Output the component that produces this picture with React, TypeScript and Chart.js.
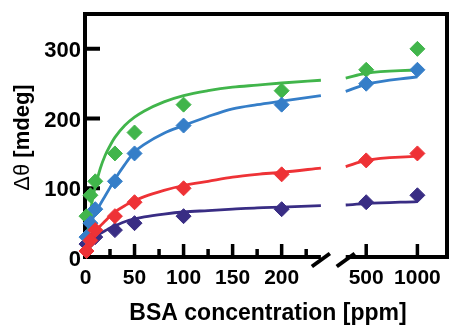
import { useEffect, useRef } from "react";
import { Chart, registerables } from "chart.js";

Chart.register(...registerables);

// Measured binding data (BSA concentration in ppm vs. Δθ in mdeg)
const concentrations = [1, 5, 10, 30, 50, 100, 200, 500, 1000];
const greenValues = [60, 90, 110, 150, 180, 220, 240, 270, 300];
const blueValues = [30, 50, 70, 110, 150, 190, 220, 250, 270];
const redValues = [10, 25, 40, 60, 80, 100, 120, 140, 150];
const purpleValues = [20, 25, 30, 40, 50, 60, 70, 80, 90];

// Fitted curves, low-concentration segment
const fitLowX = [1, 3, 5, 8, 10, 15, 20, 25, 30, 40, 50, 60, 80, 100, 125, 150, 175, 200, 240];
const greenFitLow = [18, 45, 66, 90, 102, 128, 147, 161, 173, 190, 202, 211, 224, 233, 240, 245, 248, 251, 255];
const blueFitLow = [28, 38, 47, 58, 64, 77, 89, 101, 113, 134, 152, 163, 179, 190, 203, 214, 220, 225, 233];
const redFitLow = [18, 23, 28, 34, 38, 46, 53, 60, 66, 75, 82, 88, 97, 104, 110, 116, 120, 123, 129];
const purpleFitLow = [22, 24, 26, 29, 31, 35, 39, 43, 46, 52, 56, 59, 63, 66, 68, 70, 72, 73, 75];

// Fitted curves, high-concentration segment
const fitHighX = [300, 500, 1000];
const greenFitHigh = [258, 265, 270];
const blueFitHigh = [239, 249, 260];
const redFitHigh = [131, 140, 146];
const purpleFitHigh = [76, 78, 81];

// Axis ticks and labels
const xMajorTicks = [50, 100, 150, 200, 500, 1000];
const xMinorTicks = [25, 75, 125, 175, 225];
const xTickLabels = [0, 50, 100, 150, 200, 500, 1000];
const yTicks = [100, 200, 300];
const yTickLabels = [0, 100, 200, 300];
const breakStart = 240;
const breakEnd = 300;

const GREEN = "#41b54b";
const BLUE = "#357ec8";
const RED = "#ee3236";
const PURPLE = "#392d84";

const FONT = '"Liberation Sans", Arial, sans-serif';

// Broken x axis: linear up to the break, then a compressed linear segment around 500–1000
const HIGH_ORIGIN = 286.2;
const HIGH_SCALE = 0.1044;
function axisPos(c: number): number {
  return c <= breakStart ? c : HIGH_ORIGIN + (c - 500) * HIGH_SCALE;
}

function curveData(lowY: number[], highY: number[]) {
  const gapX = (axisPos(breakStart) + axisPos(breakEnd)) / 2;
  return [
    ...fitLowX.map((c, i) => ({ x: axisPos(c), y: lowY[i] })),
    { x: gapX, y: null as unknown as number },
    ...fitHighX.map((c, i) => ({ x: axisPos(c), y: highY[i] })),
  ];
}

function pointData(values: number[]) {
  return concentrations.map((c, i) => ({ x: axisPos(c), y: values[i] }));
}

const axesPlugin = {
  id: "brokenAxes",
  beforeDatasetsDraw(chart: any) {
    const { ctx, chartArea, scales } = chart;
    const xs = scales.x;
    const ys = scales.y;
    const left = 85;
    const right = 447;
    const top = 14;
    const axisY = 257;
    const xb1 = xs.getPixelForValue(axisPos(breakStart));
    const xb2 = xs.getPixelForValue(axisPos(breakEnd));

    ctx.save();
    ctx.strokeStyle = "#000";
    ctx.lineWidth = 4;
    ctx.lineJoin = "miter";

    // left, top and right sides of the frame
    ctx.beginPath();
    ctx.moveTo(left, axisY + 2);
    ctx.lineTo(left, top);
    ctx.lineTo(right, top);
    ctx.lineTo(right, axisY + 2);
    ctx.stroke();

    // bottom axis, split at the break
    ctx.beginPath();
    ctx.moveTo(left - 2, axisY);
    ctx.lineTo(xb1, axisY);
    ctx.moveTo(xb2, axisY);
    ctx.lineTo(right + 2, axisY);
    ctx.stroke();

    // break marks
    ctx.lineCap = "butt";
    for (const bx of [xb1, xb2]) {
      ctx.beginPath();
      ctx.moveTo(bx - 9, axisY + 9.5);
      ctx.lineTo(bx + 9, axisY - 3.5);
      ctx.stroke();
    }

    // x ticks point inward
    ctx.lineWidth = 3.5;
    ctx.beginPath();
    for (const t of xMajorTicks) {
      const px = xs.getPixelForValue(axisPos(t));
      ctx.moveTo(px, axisY);
      ctx.lineTo(px, axisY - 13);
    }
    for (const t of xMinorTicks) {
      const px = xs.getPixelForValue(axisPos(t));
      ctx.moveTo(px, axisY);
      ctx.lineTo(px, axisY - 8);
    }
    ctx.stroke();

    // y ticks point inward
    ctx.lineWidth = 4;
    ctx.beginPath();
    for (const t of yTicks) {
      const py = ys.getPixelForValue(t);
      ctx.moveTo(left, py);
      ctx.lineTo(left + 15, py);
    }
    ctx.stroke();

    ctx.fillStyle = "#000";
    // x tick labels
    ctx.font = `bold 21px ${FONT}`;
    ctx.textAlign = "center";
    ctx.textBaseline = "alphabetic";
    for (const t of xTickLabels) {
      const px = xs.getPixelForValue(axisPos(t));
      ctx.fillText(String(t), px, 283.5);
    }

    // y tick labels
    ctx.font = `bold 22px ${FONT}`;
    ctx.textAlign = "right";
    for (const t of yTickLabels) {
      const py = ys.getPixelForValue(t);
      ctx.fillText(String(t), 81, py + 8);
    }

    // x axis title
    ctx.font = `bold 23px ${FONT}`;
    ctx.textAlign = "center";
    ctx.fillText("BSA concentration [ppm]", 268, 320);

    // y axis title: symbol in regular weight, unit in bold
    const part1 = "Δθ ";
    const part2 = "[mdeg]";
    ctx.translate(28.5, (chartArea.top + chartArea.bottom) / 2 + 1.5);
    ctx.rotate(-Math.PI / 2);
    ctx.textAlign = "left";
    ctx.font = `22px ${FONT}`;
    const w1 = ctx.measureText(part1).width;
    ctx.font = `bold 22px ${FONT}`;
    const w2 = ctx.measureText(part2).width;
    const start = -(w1 + w2) / 2;
    ctx.font = `22px ${FONT}`;
    ctx.fillText(part1, start, 0);
    ctx.font = `bold 22px ${FONT}`;
    ctx.fillText(part2, start + w1, 0);

    ctx.restore();
  },
};

function lineSet(data: any, color: string, order: number) {
  return {
    type: "line" as const,
    data,
    borderColor: color,
    borderWidth: 2.8,
    pointRadius: 0,
    fill: false,
    spanGaps: false,
    cubicInterpolationMode: "monotone" as const,
    clip: false as const,
    order,
  };
}

function markerSet(data: any, color: string, order: number) {
  return {
    type: "scatter" as const,
    data,
    backgroundColor: color,
    borderColor: color,
    borderWidth: 1,
    pointStyle: "rectRot" as const,
    pointRadius: 7.5,
    showLine: false,
    clip: false as const,
    order,
  };
}

export default function App() {
  const canvasRef = useRef<HTMLCanvasElement | null>(null);

  useEffect(() => {
    if (!canvasRef.current) return;
    const chart = new Chart(canvasRef.current, {
      type: "scatter",
      data: {
        datasets: [
          lineSet(curveData(purpleFitLow, purpleFitHigh), PURPLE, 8),
          markerSet(pointData(purpleValues), PURPLE, 7),
          lineSet(curveData(greenFitLow, greenFitHigh), GREEN, 6),
          markerSet(pointData(greenValues), GREEN, 5),
          lineSet(curveData(blueFitLow, blueFitHigh), BLUE, 4),
          markerSet(pointData(blueValues), BLUE, 3),
          lineSet(curveData(redFitLow, redFitHigh), RED, 2),
          markerSet(pointData(redValues), RED, 1),
        ] as any,
      },
      options: {
        animation: false,
        responsive: false,
        maintainAspectRatio: false,
        layout: { padding: { left: 85, top: 14, right: 5, bottom: 67 } },
        plugins: {
          legend: { display: false },
          tooltip: { enabled: false },
        },
        scales: {
          x: { type: "linear", min: -0.5, max: 365, display: false },
          y: { type: "linear", min: 0, max: 350, display: false },
        },
      },
      plugins: [axesPlugin],
    });
    return () => chart.destroy();
  }, []);

  return (
    <div style={{ position: "fixed", left: 0, top: 0, width: 452, height: 325, background: "#fff" }}>
      <canvas ref={canvasRef} width={452} height={325} />
    </div>
  );
}
